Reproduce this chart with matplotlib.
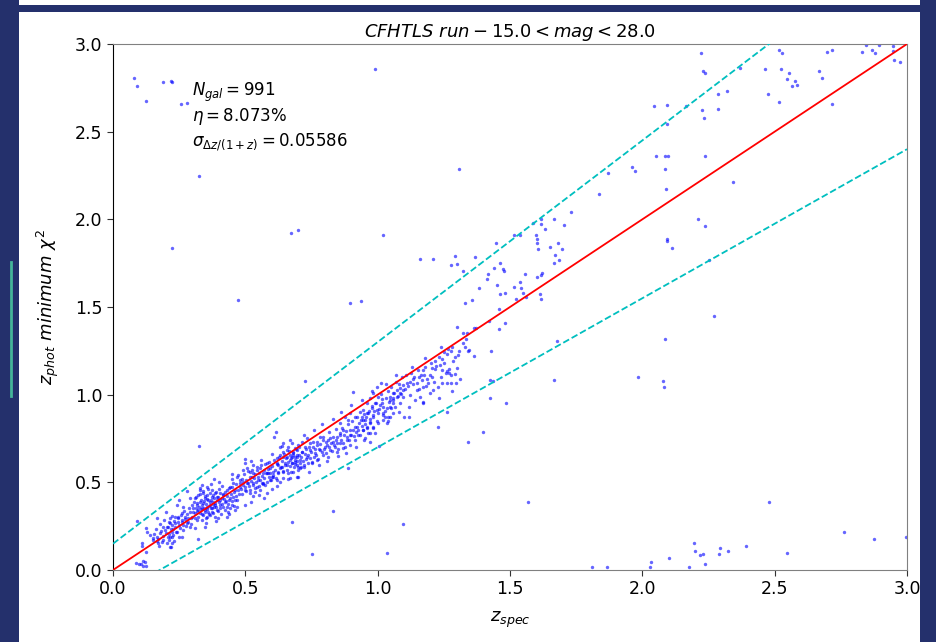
import matplotlib
matplotlib.use("Agg")
import matplotlib.pyplot as plt
from matplotlib.patches import Rectangle
from matplotlib.lines import Line2D
import numpy as np

# ---------------- data (z_spec, z_phot) ----------------
# low-z tail
zs_low = [0.089,0.126,0.127,0.111,0.108,0.125,0.087,0.097,0.105,0.115,0.122,0.125,0.112,
          0.168,0.165,0.175,0.169,0.190,0.188,0.14,0.15,
          0.217,0.222,0.215,0.218,0.223,0.213,0.222,0.210,0.222,0.219]
zp_low = [0.281,0.241,0.215,0.156,0.139,0.101,0.042,0.036,0.032,0.051,0.046,0.025,0.025,
          0.298,0.165,0.139,0.152,0.247,0.196,0.20,0.18,
          0.298,0.308,0.266,0.236,0.219,0.203,0.190,0.171,0.156,0.133]

# tail z 0.15-0.3
zs_tail = [0.152,0.165,0.178,0.190,0.203,0.215,0.196,0.209,0.222,0.234,0.247,0.259,0.266,0.278,
           0.253,0.241,0.228,0.215,0.272,0.285,0.259,0.247,0.234,0.266,0.291,
           0.155,0.162,0.171,0.177,0.183,0.186,0.194,0.199,0.204,0.207,0.212,0.226,0.229,0.231,
           0.236,0.239,0.244,0.248,0.251,0.256,0.261,0.264,0.268,0.273,0.276,0.281,0.284,0.288,
           0.293,0.296]
zp_tail = [0.171,0.190,0.209,0.171,0.152,0.133,0.228,0.247,0.257,0.266,0.276,0.285,0.257,0.266,
           0.238,0.219,0.200,0.190,0.304,0.295,0.323,0.304,0.304,0.361,0.247,
           0.205,0.232,0.178,0.262,0.221,0.157,0.284,0.212,0.243,0.187,0.271,0.232,0.281,0.168,
           0.247,0.214,0.296,0.258,0.191,0.311,0.272,0.229,0.338,0.289,0.251,0.317,0.276,0.352,
           0.298,0.263]

# main blob z 0.29-0.48
zs_blob = [0.329,0.341,0.354,0.348,0.360,0.373,0.379,0.366,0.354,0.341,0.329,0.316,0.304,0.322,
           0.335,0.348,0.360,0.373,0.385,0.392,0.398,0.404,0.411,0.417,0.423,0.404,0.392,0.379,
           0.366,0.354,0.341,0.329,0.310,0.297,0.316,0.335,0.291,0.297,0.310,0.322,0.335,0.354,
           0.373,0.385,0.429,0.436,0.448,0.461,0.442,0.429,
           0.302,0.305,0.308,0.312,0.314,0.318,0.319,0.323,0.326,0.327,0.331,0.333,0.336,0.338,
           0.339,0.343,0.345,0.347,0.349,0.351,0.352,0.356,0.357,0.359,0.362,0.363,0.365,0.368,
           0.369,0.371,0.374,0.376,0.377,0.381,0.383,0.384,0.387,0.389,0.391,0.394,0.396,0.399,
           0.401,0.403,0.406,0.408,0.412,0.414,0.416,0.419,0.422,0.425,0.427,0.431,0.433,0.437,
           0.439,0.441,0.446,0.449,0.451,0.454,0.457,0.459,0.463,0.466,0.469,0.472,0.476,0.479]
zp_blob = [0.456,0.437,0.428,0.409,0.399,0.418,0.390,0.371,0.361,0.380,0.390,0.371,0.352,0.342,
           0.352,0.342,0.333,0.352,0.371,0.399,0.418,0.437,0.409,0.428,0.390,0.371,0.342,0.323,
           0.314,0.304,0.314,0.323,0.323,0.304,0.285,0.285,0.333,0.371,0.409,0.428,0.485,0.475,
           0.456,0.437,0.361,0.333,0.371,0.399,0.409,0.456,
           0.331,0.388,0.297,0.356,0.414,0.336,0.381,0.302,0.362,0.431,0.347,0.398,0.317,0.372,
           0.451,0.356,0.392,0.331,0.421,0.377,0.298,0.346,0.407,0.463,0.366,0.321,0.389,0.438,
           0.351,0.398,0.331,0.376,0.427,0.358,0.409,0.302,0.383,0.446,0.362,0.417,0.338,0.387,
           0.462,0.352,0.401,0.321,0.378,0.433,0.358,0.407,0.341,0.447,0.392,0.421,0.374,0.468,
           0.398,0.351,0.431,0.392,0.476,0.418,0.367,0.447,0.423,0.489,0.402,0.456,0.431,0.498]

# mid cluster z 0.44-0.72
zs_mid = [0.499,0.505,0.518,0.530,0.543,0.555,0.568,0.467,0.480,0.492,0.511,0.530,0.549,0.562,
          0.518,0.537,0.555,0.574,0.480,0.499,0.455,0.474,0.442,0.461,0.524,0.543,
          0.656,0.669,0.681,0.694,0.644,0.618,0.637,0.656,0.675,0.688,0.700,0.593,0.606,0.625,
          0.644,0.662,0.681,0.694,0.669,0.644,0.618,0.600,0.587,0.694,0.704,
          0.581,0.593,0.568,0.606,0.581,
          0.398,0.43,0.46,0.50,0.53,0.57,0.60,0.62,0.25,0.28,0.40,0.45,0.38,0.52,
          0.482,0.486,0.488,0.491,0.494,0.497,0.501,0.503,0.507,0.509,0.513,0.516,0.519,0.522,
          0.526,0.528,0.532,0.535,0.538,0.541,0.545,0.547,0.551,0.553,0.557,0.559,0.563,0.566,
          0.569,0.572,0.576,0.578,0.582,0.585,0.588,0.591,0.595,0.598,0.602,0.605,0.609,0.612,
          0.616,0.621,0.624]
zp_mid = [0.608,0.580,0.561,0.551,0.570,0.580,0.551,0.532,0.513,0.504,0.494,0.494,0.513,0.494,
          0.456,0.447,0.456,0.485,0.475,0.456,0.494,0.542,0.475,0.456,0.532,0.475,
          0.684,0.656,0.665,0.646,0.646,0.608,0.589,0.599,0.608,0.618,0.589,0.580,0.561,0.551,
          0.561,0.551,0.561,0.532,0.523,0.523,0.513,0.532,0.551,0.684,0.703,
          0.551,0.513,0.494,0.532,0.608,
          0.295,0.30,0.34,0.37,0.42,0.41,0.46,0.48,0.40,0.45,0.50,0.55,0.52,0.62,
          0.462,0.521,0.431,0.487,0.548,0.472,0.512,0.448,0.497,0.562,0.478,0.528,0.442,0.509,
          0.571,0.487,0.523,0.468,0.546,0.502,0.587,0.528,0.478,0.553,0.512,0.598,0.537,0.489,
          0.571,0.527,0.603,0.551,0.502,0.578,0.532,0.617,0.556,0.512,0.591,0.543,0.628,0.571,
          0.527,0.603,0.558]

# band z 0.6-1.1
zs_hi = [0.732,0.744,0.757,0.770,0.782,0.795,0.807,0.820,0.833,0.845,0.858,0.870,0.744,0.763,
         0.782,0.801,0.820,0.839,0.858,0.725,0.713,0.694,0.675,0.688,0.707,0.732,0.751,0.770,
         0.795,0.814,0.845,0.870,0.883,0.895,0.908,0.921,0.889,0.877,0.858,0.895,0.914,0.933,
         0.946,0.958,0.971,0.984,0.996,1.009,1.021,1.034,1.047,1.059,1.072,1.084,1.097,0.927,
         0.946,0.965,0.984,1.003,1.021,1.040,1.059,0.952,0.971,0.895,0.914,
         0.618,0.631,0.644,0.656,0.669,0.681,0.662,0.675,0.688,0.700,0.713,0.650,0.635,0.625,
         0.694,0.707,0.720,0.631,0.644,
         0.627,0.632,0.638,0.641,0.647,0.651,0.654,0.658,0.661,0.664,0.667,0.671,0.673,0.677,
         0.679,0.683,0.686,0.689,0.691,0.696,0.698,0.702,0.705,0.709,0.711,0.715,0.718,0.722,
         0.724,0.728,0.731,0.735,0.738,0.742,0.746,0.749,0.753,0.757,0.761,0.764,0.768,0.772,
         0.776,0.779,0.784,
         0.788,0.792,0.797,0.803,0.806,0.811,0.816,0.818,0.823,0.827,0.831,0.836,0.841,0.843,
         0.848,0.852,0.856,0.861,0.864,0.868,0.873,0.876,0.881,0.885,0.887,0.892,0.897,0.901,
         0.904,0.909,0.913,0.917,0.921,0.926,0.929,0.934,0.938,0.942,0.947,0.951,0.956,0.961,
         0.966,0.972,0.978]
zp_hi = [0.751,0.722,0.703,0.732,0.760,0.741,0.713,0.751,0.732,0.760,0.779,0.798,0.684,0.665,
         0.684,0.703,0.684,0.703,0.722,0.703,0.675,0.656,0.646,0.627,0.627,0.646,0.618,0.627,
         0.656,0.646,0.675,0.694,0.741,0.770,0.798,0.818,0.856,0.875,0.837,0.894,0.875,0.903,
         0.856,0.894,0.837,0.875,0.913,0.941,0.894,0.922,0.970,0.951,0.989,1.008,1.027,0.770,
         0.798,0.779,0.808,0.837,0.856,0.875,0.894,0.751,0.732,0.713,0.741,
         0.637,0.656,0.675,0.646,0.627,0.656,0.703,0.722,0.694,0.713,0.732,0.608,0.589,0.599,
         0.599,0.580,0.589,0.703,0.722,
         0.642,0.581,0.621,0.562,0.662,0.598,0.637,0.571,0.617,0.681,0.592,0.638,0.561,0.612,
         0.673,0.587,0.643,0.602,0.692,0.621,0.571,0.658,0.608,0.643,0.588,0.672,0.622,0.598,
         0.662,0.631,0.688,0.612,0.657,0.703,0.638,0.671,0.612,0.728,0.647,0.692,0.658,0.712,
         0.631,0.688,0.717,
         0.672,0.758,0.692,0.731,0.668,0.742,0.702,0.788,0.722,0.681,0.761,0.712,0.741,0.802,
         0.722,0.692,0.768,0.741,0.812,0.727,0.771,0.702,0.792,0.758,0.832,0.742,0.801,0.771,
         0.852,0.762,0.818,0.788,0.872,0.801,0.838,0.768,0.858,0.821,0.892,0.832,0.871,0.812,
         0.908,0.862,0.938]

# band z 0.94-1.31
zs_one = [1.232,1.242,1.218,1.203,1.204,1.217,1.235,1.243,1.258,1.271,1.276,1.263,1.292,1.311,
          1.296,1.276,1.261,1.173,1.175,1.164,1.155,1.185,1.191,1.170,1.147,1.135,1.122,1.110,
          1.094,1.084,1.072,1.059,1.047,1.141,1.173,1.160,1.198,1.210,1.227,1.242,1.214,1.101,
          1.118,1.065,1.052,1.083,1.096,1.011,0.996,0.984,1.003,1.015,0.971,0.958,0.990,1.021,
          0.977,0.946,0.965,0.984,1.003,1.021,0.940,0.952,0.971,0.996,1.028,0.958,0.984,0.946,
          0.971,1.034,1.047,1.059,1.047,1.292,1.261,1.249,1.279,1.266,
          0.986,0.993,1.006,1.013,1.018,1.026,1.031,1.038,1.044,1.051,1.057,1.063,1.068,1.076,
          1.081,1.088,1.093,1.102,1.108,1.113,1.121,1.127,1.133,1.139,1.148,1.152,1.158,1.167,
          1.178,1.183,1.196,1.207,1.222,1.238,1.252,1.268,1.284,1.298]
zp_one = [1.217,1.202,1.194,1.179,1.150,1.146,1.169,1.141,1.122,1.125,1.110,1.137,1.118,1.087,
          1.065,1.065,1.065,1.141,1.114,1.110,1.099,1.087,1.065,1.046,1.027,1.087,1.074,1.065,
          1.055,1.036,1.027,1.008,0.989,0.970,0.958,0.989,1.008,1.027,1.046,1.065,1.070,0.875,
          0.875,0.932,0.922,0.951,0.989,1.065,1.046,1.008,0.989,0.973,0.979,0.951,0.951,0.932,
          0.922,0.913,0.894,0.884,0.894,0.884,0.875,0.856,0.846,0.852,0.875,0.817,0.817,0.798,
          0.779,0.837,0.932,0.979,0.875,1.217,1.232,1.245,1.274,1.259,
          0.908,0.951,0.921,1.002,0.952,0.908,0.982,1.021,0.958,1.046,0.968,1.012,1.072,0.992,
          1.058,1.002,1.098,1.032,1.111,1.048,0.998,1.121,1.058,1.102,1.068,1.142,1.031,1.082,
          1.158,1.052,1.112,1.098,1.161,1.102,1.178,1.148,1.192,1.152]

# scatter at the edges of the band
zs_edge = [0.26,0.31,0.35,0.39,0.44,0.47,0.52,0.55,0.58,0.63,0.66,0.70,0.74,0.78,0.81,0.85,
           0.88,0.92,0.95,0.99,1.04,1.08,1.12,1.17,1.23,1.28,
           0.20,0.24,0.29,0.33,0.37,0.41,0.45,0.49,0.53,0.56,0.60,0.64,0.67,0.72,0.76,0.79,
           0.83,0.86,0.90,0.94,0.98,1.03,1.07,1.13,1.18,1.24]
zp_edge = [0.19,0.24,0.27,0.28,0.32,0.36,0.39,0.43,0.44,0.50,0.52,0.53,0.56,0.60,0.62,0.65,
           0.67,0.70,0.74,0.78,0.85,0.90,0.93,0.95,0.98,1.02,
           0.33,0.37,0.41,0.47,0.49,0.48,0.52,0.57,0.60,0.63,0.66,0.71,0.74,0.77,0.80,0.83,
           0.86,0.90,0.94,0.97,1.02,1.06,1.11,1.16,1.21,1.27]

# band z 1.27-1.87
zs_up = [1.292,1.276,1.299,1.321,1.367,1.447,1.516,1.538,1.586,1.617,1.617,1.631,1.667,1.705,
         1.730,1.836,1.869,1.598,1.602,1.602,1.605,1.650,1.680,1.695,1.669,1.665,1.685,1.601,
         1.620,1.618,1.613,1.618,1.556,1.562,1.516,1.521,1.538,1.543,1.550,1.461,1.482,1.460,
         1.482,1.460,1.450,1.418,1.414,1.440,1.462,1.472,1.477,1.383,1.331,1.356,1.419,1.301,
         1.324,1.339,1.334,1.324,1.330,1.365,1.371,1.346,1.340,1.306,1.302,1.364,1.276,1.427]
zp_up = [1.791,1.741,1.745,1.707,1.783,1.863,1.913,1.909,1.981,2.000,1.973,1.947,2.004,1.970,
         2.044,2.144,2.266,1.909,1.886,1.867,1.833,1.841,1.863,1.829,1.795,1.753,1.768,1.669,
         1.696,1.681,1.574,1.546,1.688,1.559,1.612,1.544,1.643,1.610,1.582,1.572,1.578,1.487,
         1.410,1.376,1.627,1.688,1.661,1.721,1.749,1.715,1.704,1.610,1.525,1.540,1.422,1.384,
         1.350,1.350,1.316,1.296,1.274,1.380,1.379,1.255,1.247,1.247,1.225,1.221,1.247,1.251]

# catastrophic outliers
zs_out = [0.081,0.092,0.124,0.188,0.221,0.224,0.257,0.278,0.326,0.673,0.698,1.021,0.989,
          0.224,0.472,0.895,0.937,0.727,
          0.326,0.499,0.607,0.616,0.906,0.675,0.752,0.832,1.034,1.097,0.320,0.348,0.889,
          1.568,1.309,1.160,1.210,1.229,1.263,1.343,1.399,1.424,1.485,1.424,1.437,1.668,1.677,1.006,
          2.222,2.231,2.235,2.045,2.092,2.164,2.094,2.226,2.232,2.286,2.286,2.319,2.370,2.465,
          2.518,2.528,2.474,2.518,2.524,2.554,2.548,2.577,2.586,2.564,2.668,2.677,2.699,2.716,
          2.716,2.829,2.844,2.866,2.880,2.893,2.948,2.948,2.952,2.973,2.050,2.087,2.096,2.238,
          1.960,1.974,2.087,2.089,2.344,2.209,2.238,2.095,2.092,2.112,2.252,2.271,2.087,
          1.982,2.079,2.083,2.480,2.761,2.877,2.995,2.195,2.199,2.219,2.228,2.290,2.293,2.325,
          2.393,2.548,2.102,2.034,2.028,2.238,2.176,1.811,1.866]
zp_out = [2.808,2.762,2.675,2.781,2.789,2.781,2.656,2.662,2.247,1.922,1.939,1.911,2.856,
          1.838,1.542,1.523,1.536,1.076,
          0.707,0.633,0.760,0.789,1.017,0.272,0.093,0.336,0.099,0.262,0.177,0.245,0.580,
          0.388,2.285,1.772,1.776,0.814,0.901,0.728,0.789,0.979,0.951,1.084,1.080,1.084,1.304,0.707,
          2.947,2.846,2.837,2.646,2.650,2.646,2.544,2.622,2.578,2.627,2.715,2.734,2.861,2.859,
          2.968,2.947,2.715,2.667,2.856,2.835,2.798,2.791,2.768,2.763,2.844,2.806,2.956,2.966,
          2.656,2.956,2.992,2.966,2.947,2.992,2.987,2.962,2.907,2.897,2.363,2.363,2.363,2.363,
          2.297,2.276,2.287,2.173,2.213,2.004,1.960,1.886,1.876,1.838,1.766,1.451,1.317,
          1.099,1.080,1.046,0.390,0.215,0.175,0.190,0.156,0.108,0.084,0.091,0.089,0.125,0.108,
          0.137,0.099,0.068,0.044,0.019,0.034,0.019,0.019,0.019]

n_gal = 991
eta = 8.073
sigma = 0.05586
zmax = 3.0
outlier_frac = 0.15

# ---------------- figure ----------------
fig = plt.figure(figsize=(9.36, 6.42), dpi=100)
fig.patch.set_facecolor('#24306c')
fig.patches.append(Rectangle((19/936, 0), (920-19)/936, (642-12)/642,
                             transform=fig.transFigure, facecolor='white',
                             edgecolor='none', zorder=-10))
fig.patches.append(Rectangle((19/936, 1-5/642), (920-19)/936, 5/642,
                             transform=fig.transFigure, facecolor='white',
                             edgecolor='none', zorder=-10))
fig.lines.append(Line2D([11/936, 11/936], [1-262/642, 1-396/642],
                        transform=fig.transFigure, color='#45b59a', lw=2, zorder=-5))

ax = fig.add_axes([113/936, 1-570/642, (907-113)/936, (570-44)/642])
ax.set_zorder(5)
ax.set_facecolor('white')

zs_all = np.array(zs_low + zs_tail + zs_blob + zs_mid + zs_hi + zs_one + zs_edge + zs_up + zs_out)
zp_all = np.array(zp_low + zp_tail + zp_blob + zp_mid + zp_hi + zp_one + zp_edge + zp_up + zp_out)
ax.scatter(zs_all, zp_all, s=6, color='b', alpha=0.6, linewidths=0, zorder=2)

xx = np.array([0.0, zmax])
ax.plot(xx, xx, color='r', lw=1.3, zorder=3)
ax.plot(xx, xx + outlier_frac * (1 + xx), color='c', ls='--', lw=1.3, zorder=3)
ax.plot(xx, xx - outlier_frac * (1 + xx), color='c', ls='--', lw=1.3, zorder=3)

ax.set_xlim(0, 3)
ax.set_ylim(0, 3)
ax.set_xticks(np.arange(0, 3.01, 0.5))
ax.set_yticks(np.arange(0, 3.01, 0.5))
ax.tick_params(labelsize=12.5, length=4, color='#333333')
for side in ['top', 'right', 'bottom']:
    ax.spines[side].set_color('#808080')
ax.spines['left'].set_color('black')

ax.set_title(r'$CFHTLS\ run - 15.0 < mag < 28.0$', fontsize=13, pad=5)
ax.set_xlabel(r'$z_{spec}$', fontsize=13, labelpad=8)
ax.set_ylabel(r'$z_{phot}\ minimum\ \chi^2$', fontsize=13, labelpad=10)

ax.text(0.30, 2.79, r'$N_{gal} = %d$' % n_gal, fontsize=12, va='top')
ax.text(0.30, 2.645, r'$\eta = %.3f\%%$' % eta, fontsize=12, va='top')
ax.text(0.30, 2.50, r'$\sigma_{\Delta z/(1+z)} = %.5f$' % sigma, fontsize=12, va='top')

fig.savefig('out.png', dpi=100, facecolor=fig.get_facecolor())
